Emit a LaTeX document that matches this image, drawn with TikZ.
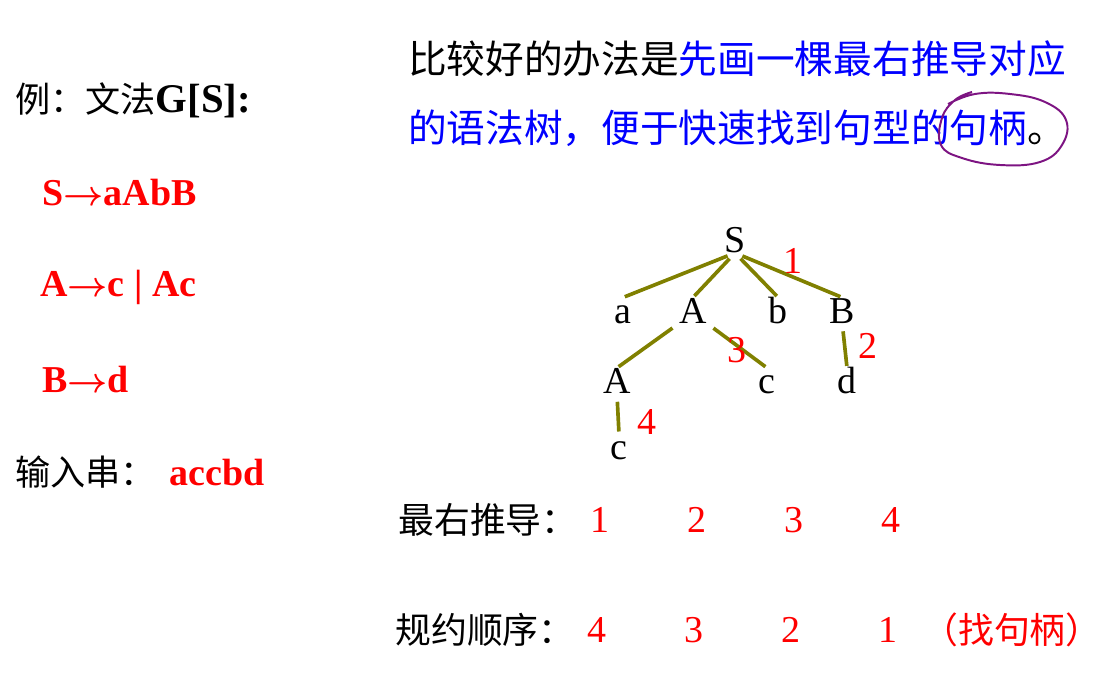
\documentclass[tikz,border=0pt]{standalone}
\usepackage{fontspec}
\setmainfont{Liberation Serif}
\newfontfamily\cjk{Noto Sans CJK SC}
\usetikzlibrary{positioning}
\definecolor{treeline}{RGB}{128,128,0}
\definecolor{markpurple}{RGB}{125,20,130}
\newcommand{\yields}{\ensuremath{\rightarrow}}

\begin{document}
\begin{tikzpicture}[x=0.025cm, y=-0.025cm, node distance=1.76cm,
    sym/.style = {font=\fontsize{27}{30}\selectfont, text height=18pt, text depth=0pt, inner sep=0pt},
    num/.style = {text=red, font=\fontsize{27}{30}\selectfont, inner sep=0pt},
    branch/.style = {draw=treeline, line width=2.6pt, shorten <=0.2cm, shorten >=0.05cm},
    cn/.style = {font=\cjk\fontsize{25.5}{30}\selectfont, anchor=west, inner sep=0pt},
    rule/.style = {text=red, font=\bfseries\boldmath\fontsize{27}{30}\selectfont, anchor=west, inner sep=0pt},
    circled/.style = {draw=markpurple, line width=1.4pt}]
    \useasboundingbox (0,0) rectangle (1119,695);

    % grammar
    \node[cn, font=\cjk\fontsize{25}{30}\selectfont] (gram) at (15,100) {例：文法{\rmfamily\bfseries\fontsize{29}{30}\selectfont G[S]:}};
    \node[rule] (r1) at (42,193) {S\yields aAbB};
    \node[rule] (r2) at (40,287) {A\yields c | Ac};
    \node[rule] (r3) at (42,380) {B\yields d};
    \node[cn, font=\cjk\fontsize{25}{30}\selectfont] (input) at (15,472) {输入串：\hspace{0.4em}{\rmfamily\bfseries\color{red}\fontsize{27}{30}\selectfont accbd}};

    % hint
    \node[cn, font=\cjk\fontsize{27.5}{30}\selectfont] (top1) at (408,59) {比较好的办法是\textcolor{blue}{先画一棵最右推导对应}};
    \node[cn, font=\cjk\fontsize{27.5}{30}\selectfont] (top2) at (408,128) {\textcolor{blue}{的语法树，便于快速找到句型的句柄}。};
    \draw[circled] plot[smooth, tension=0.7] coordinates {(948,104) (975,94) (1010,94) (1045,102) (1066,120) (1062,145) (1040,162) (1000,165) (962,158) (941,145) (942,118) (955,100) (972,92)};

    % tree
    \node[sym] (S) at (735,240) {S};
    \node[sym] (a) [below of=S, xshift=-2.8cm] {a};
    \node[sym] (A) [below of=S, xshift=-1.05cm] {A};
    \node[sym] (b) [below of=S, xshift=1.08cm] {b};
    \node[sym] (B) [below of=S, xshift=2.68cm] {B};
    \node[sym] (A2) [below of=A, xshift=-1.9cm] {A};
    \node[sym] (c1) [below of=A, xshift=1.85cm] {c};
    \node[sym] (d) [below of=B, xshift=0.12cm] {d};
    \node[sym] (c2) [below of=A2, xshift=0.05cm, yshift=0.12cm] {c};

    \draw[branch] (S.south) -- (a.north);
    \draw[branch] (S.south) -- (A.north);
    \draw[branch] (S.south) -- (b.north);
    \draw[branch] (S.south) -- node[num, above, xshift=0.1cm] {1} (B.north);
    \draw[branch] (A.south west) -- (A2.north);
    \draw[branch] (A.south east) -- node[num, yshift=-0.1cm] {3} (c1.north);
    \draw[branch] (B.south) -- node[num, right=0.3cm] {2} (d.north);
    \draw[branch] (A2.south) -- node[num, right=0.45cm, yshift=-0.2cm] {4} (c2.north);

    % orders
    \node[cn] (rmd) at (398,520) {最右推导：};
    \foreach \n [count=\i] in {1,2,3,4}
        \node[num] (rmd\i) at (503+97*\i,520) {\n};
    \node[cn] (red) at (395,630) {规约顺序：};
    \foreach \n [count=\i] in {4,3,2,1}
        \node[num] (red\i) at (500+97*\i,630) {\n};
    \node[cn, text=red] (hdl) at (922,630) {（找句柄）};
\end{tikzpicture}
\end{document}
